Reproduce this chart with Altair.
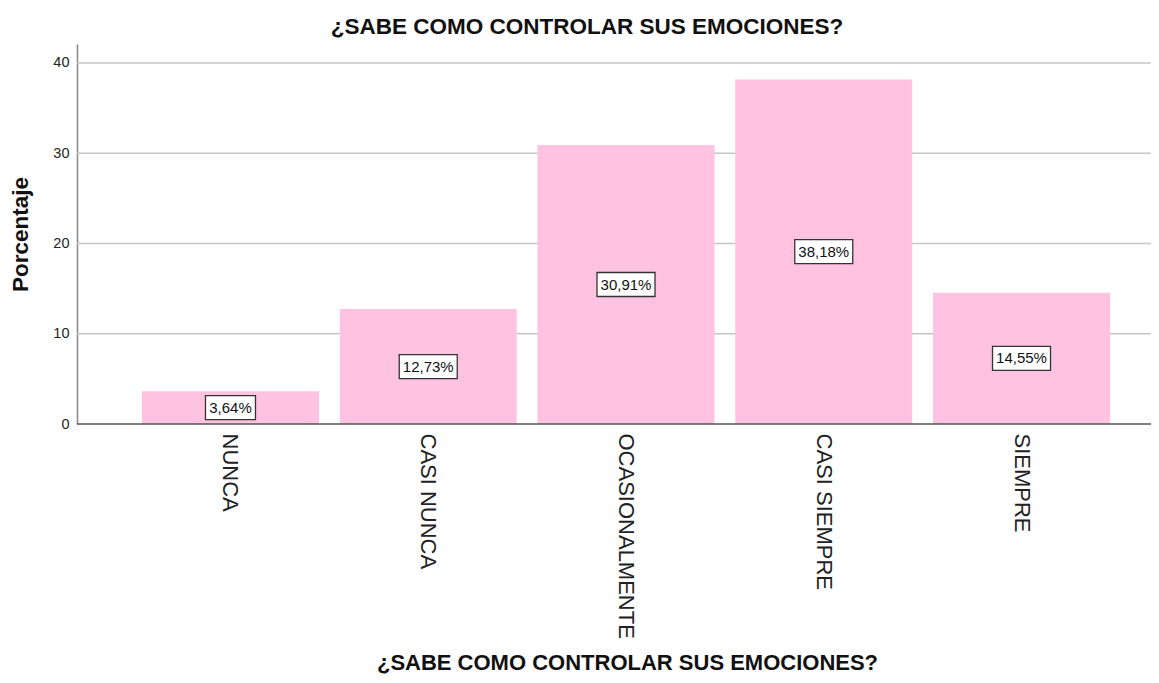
import altair as alt
import pandas as pd

categories = ["NUNCA", "CASI NUNCA", "OCASIONALMENTE", "CASI SIEMPRE", "SIEMPRE"]
percentages = [3.64, 12.73, 30.91, 38.18, 14.55]
value_labels = ["3,64%", "12,73%", "30,91%", "38,18%", "14,55%"]
y_ticks = [0, 10, 20, 30, 40]
grid_values = [10, 20, 30, 40]

df = pd.DataFrame({"cat": categories, "pct": percentages, "lab": value_labels})
grid_df = pd.DataFrame({"v": grid_values})
base_df = pd.DataFrame({"v": [0]})

FONT = "Liberation Sans"
W, H = 1074, 380

xscale = alt.Scale(domain=categories, range=[54.6, 1043.4], paddingInner=0.105, paddingOuter=0.0525)
yscale = alt.Scale(domain=[0, 42.1], nice=False, zero=True)

x_enc = alt.X("cat:N", sort=categories, scale=xscale,
              axis=alt.Axis(title="¿SABE COMO CONTROLAR SUS EMOCIONES?", labelAngle=90,
                            labelAlign="left", labelBaseline="middle", labelPadding=9,
                            labelFontSize=22, labelColor="#222", labelFont=FONT,
                            labelLimit=0, ticks=False, domain=False,
                            titleFont=FONT, titleFontSize=22, titleFontWeight="bold",
                            titleColor="#111", titleX=550, titleY=245,
                            titleAlign="center", titleBaseline="alphabetic"))

grid = alt.Chart(grid_df).mark_rule(color="#c6c6c6", strokeWidth=1.5).encode(
    y=alt.Y("v:Q", scale=yscale), x=alt.value(0), x2=alt.value(W)
)

base = alt.Chart(df)

bars = base.mark_bar(color="#FFC2E1").encode(
    x=x_enc,
    y=alt.Y("pct:Q", scale=yscale,
            axis=alt.Axis(title="Porcentaje", values=y_ticks, ticks=False, grid=False,
                          domainColor="#888", domainWidth=1.5, labelFont=FONT,
                          labelFontSize=14.5, labelColor="#222", labelPadding=8,
                          titleFont=FONT, titleFontSize=22.5, titleFontWeight="bold",
                          titleColor="#111", titleX=-57, titleY=190,
                          titleAlign="center", titleBaseline="middle")),
)

baseline = alt.Chart(base_df).mark_rule(color="#555", strokeWidth=1.5).encode(
    y=alt.Y("v:Q", scale=yscale), x=alt.value(0), x2=alt.value(W)
)

mid = base.transform_calculate(mid="datum.pct / 2", n="length(datum.lab)")

box5 = mid.transform_filter("datum.n <= 5").mark_rect(
    width=50, height=24, fill="white", stroke="#333", strokeWidth=1.3
).encode(x=alt.X("cat:N", sort=categories, scale=xscale), y=alt.Y("mid:Q", scale=yscale))

box6 = mid.transform_filter("datum.n > 5").mark_rect(
    width=58, height=24, fill="white", stroke="#333", strokeWidth=1.3
).encode(x=alt.X("cat:N", sort=categories, scale=xscale), y=alt.Y("mid:Q", scale=yscale))

texts = mid.mark_text(font=FONT, fontSize=15, color="#111", align="center",
                      baseline="middle").encode(
    x=alt.X("cat:N", sort=categories, scale=xscale),
    y=alt.Y("mid:Q", scale=yscale),
    text="lab:N",
)

chart = alt.layer(grid, bars, baseline, box5, box6, texts).properties(
    width=W, height=H,
    title=alt.TitleParams("¿SABE COMO CONTROLAR SUS EMOCIONES?", font=FONT, fontSize=22.5,
                          fontWeight="bold", color="#111", anchor="middle", dx=-27,
                          offset=6),
    autosize=alt.AutoSizeParams(type="none"),
    padding={"left": 69, "top": 36, "right": 0, "bottom": 251},
).configure_view(strokeWidth=0)

chart.save("out.html", embed_options={"renderer": "svg", "actions": False})
